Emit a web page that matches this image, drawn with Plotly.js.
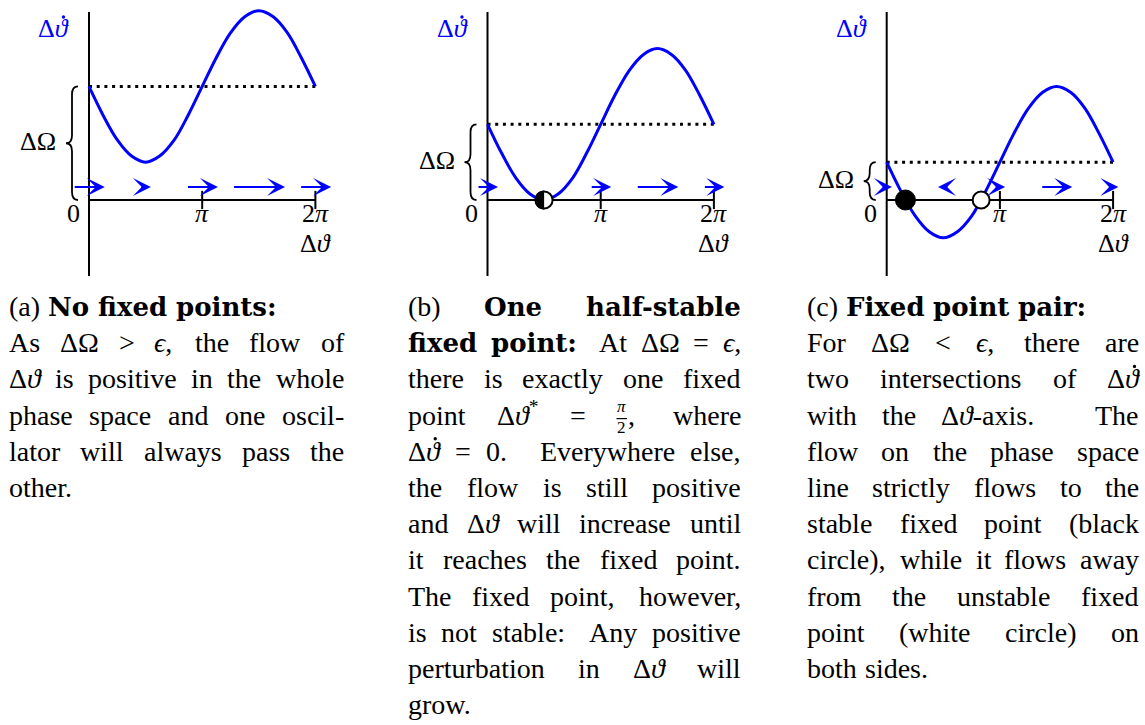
<!DOCTYPE html>
<html>
<head>
<meta charset="utf-8">
<script src="https://cdn.plot.ly/plotly-3.0.1.min.js"></script>
<style>
  html, body { margin: 0; padding: 0; background: #fff; }
  #fig { width: 1145px; height: 725px; }
</style>
</head>
<body>
<div id="fig"></div>
<script>
// Phase-line sketches for the phase difference Δϑ of two coupled oscillators:
// the rate dΔϑ/dt against Δϑ for three detunings ΔΩ relative to the coupling ϵ,
// each with a caption set as a justified paragraph underneath.

// ---- data -------------------------------------------------------------
const phase = [0, 0.39, 0.79, 1.18, 1.57, 1.96, 2.36, 2.75, 3.14,
               3.53, 3.93, 4.32, 4.71, 5.11, 5.50, 5.89, 6.28];
const rateA = [1.50, 1.12, 0.79, 0.58, 0.50, 0.58, 0.79, 1.12, 1.50,
               1.88, 2.21, 2.42, 2.50, 2.42, 2.21, 1.88, 1.50];
const rateB = [1.00, 0.62, 0.29, 0.08, 0.00, 0.08, 0.29, 0.62, 1.00,
               1.38, 1.71, 1.92, 2.00, 1.92, 1.71, 1.38, 1.00];
const rateC = [0.50, 0.12, -0.21, -0.42, -0.50, -0.42, -0.21, 0.12, 0.50,
               0.88, 1.21, 1.42, 1.50, 1.42, 1.21, 0.88, 0.50];
const detuning = [1.5, 1.0, 0.5];          // ΔΩ in units of ϵ
const flowPhase = [0, 1.57, 3.14, 4.71, 6.28];  // where the flow arrows sit
const halfStableB = [1.57];
const stableC = [0.52];
const unstableC = [2.62];
const tickVals = [3.14, 6.28];
const tickText = ['<i>π</i>', '2<i>π</i>'];
const zeroText = '0';
const xTitle = 'Δ<i>ϑ</i>';
const yTitle = 'Δ<i>ϑ̇</i>';
const braceText = 'ΔΩ';

const captionA = [
  { t: '(a) <b>No</b> <b>fixed</b> <b>points:</b>', j: false },
  { t: 'As ΔΩ &gt; <i>ϵ</i>, the flow of', j: true },
  { t: 'Δ<i>ϑ</i> is positive in the whole', j: true },
  { t: 'phase space and one oscil-', j: true },
  { t: 'lator will always pass the', j: true },
  { t: 'other.', j: false }
];
const captionB = [
  { t: '(b) <b>One</b> <b>half-stable</b>', j: true },
  { t: '<b>fixed</b> <b>point:</b> At ΔΩ = <i>ϵ</i>,', j: true },
  { t: 'there is exactly one fixed', j: true },
  { t: 'point Δ<i>ϑ</i><sup>*</sup> = {frac}, where', j: true },
  { t: 'Δ<i>ϑ̇</i> = 0. Everywhere else,', j: true },
  { t: 'the flow is still positive', j: true },
  { t: 'and Δ<i>ϑ</i> will increase until', j: true },
  { t: 'it reaches the fixed point.', j: true },
  { t: 'The fixed point, however,', j: true },
  { t: 'is not stable: Any positive', j: true },
  { t: 'perturbation in Δ<i>ϑ</i> will', j: true },
  { t: 'grow.', j: false }
];
const captionC = [
  { t: '(c) <b>Fixed</b> <b>point</b> <b>pair:</b>', j: false },
  { t: 'For ΔΩ &lt; <i>ϵ</i>, there are', j: true },
  { t: 'two intersections of Δ<i>ϑ̇</i>', j: true },
  { t: 'with the Δ<i>ϑ</i>-axis. The', j: true },
  { t: 'flow on the phase space', j: true },
  { t: 'line strictly flows to the', j: true },
  { t: 'stable fixed point (black', j: true },
  { t: 'circle), while it flows away', j: true },
  { t: 'from the unstable fixed', j: true },
  { t: 'point (white circle) on', j: true },
  { t: 'both sides.', j: false }
];
const fracNum = '<i>π</i>';
const fracDen = '2';

// ---- geometry -----------------------------------------------------------
const W = 1145, H = 725;
const FAMILY = 'Liberation Serif';
const BOLD_FAMILY = 'DejaVu Serif';   // wide bold face for the run-in headings
const FS = 28;                 // caption text size
const BFS = 26;                // heading text size
const LS = 26;                 // size of the labels inside the sketches
const DESC = 0.216;            // descent / size, Liberation Serif
const BDESC = 0.236;           // descent / size, DejaVu Serif
const DOT = '\u0307';          // combining dot above (drawn as a separate mark)
const SX = 36.05;              // px per radian
const SY = 75.7;               // px per unit of ϵ
const OY = 200;                // px row of the Δϑ axis
const AX_TOP = 12, AX_BOT = 276;
const ARROW_K = 21 / SX;       // arrow length (rad) per unit rate
const FLOW_Y = 13 / SY;        // height of the flow arrows above the axis
const BLUE = '#0000ff';

// text measuring
const ctx = document.createElement('canvas').getContext('2d');
const decode = s => s.replace(/&lt;/g, '<').replace(/&gt;/g, '>').replace(/&amp;/g, '&');
const isBold = tok => /^<b>.*<\/b>$/.test(tok);
function textWidth(html, size) {
  let w = 0, bold = false, ital = false, sup = false;
  html.split(/(<\/?(?:b|i|sup)>)/).forEach(part => {
    if (part === '<b>') bold = true;
    else if (part === '</b>') bold = false;
    else if (part === '<i>') ital = true;
    else if (part === '</i>') ital = false;
    else if (part === '<sup>') sup = true;
    else if (part === '</sup>') sup = false;
    else if (part) {
      const fam = bold ? BOLD_FAMILY : FAMILY;
      const sz = bold ? BFS : (sup ? size * 0.7 : size);
      ctx.font = `${ital ? 'italic ' : ''}${bold ? 'bold ' : ''}${sz}px "${fam}", "DejaVu Serif"`;
      w += ctx.measureText(decode(part)).width;
    }
  });
  return w;
}
// split a label that carries a dot accent into the plain text and the
// horizontal centre (px from the text start) of the accented letter
function dotted(html, size) {
  const k = html.indexOf(DOT);
  if (k < 0) return { text: html, dx: null };
  const pre = html.slice(0, k);
  const letter = pre.slice(-1);
  const dx = textWidth(pre, size) - textWidth('<i>' + letter + '</i>', size) / 2 + 0.12 * size;
  return { text: html.replace(DOT, ''), dx };
}

const panels = [
  { ox: 89,    rate: rateA, det: detuning[0], half: [],          stable: [],      unstable: [] },
  { ox: 487.5, rate: rateB, det: detuning[1], half: halfStableB, stable: [],      unstable: [] },
  { ox: 886.7, rate: rateC, det: detuning[2], half: [],          stable: stableC, unstable: unstableC }
];

const layout = {
  width: W, height: H, autosize: false,
  margin: { l: 0, r: 0, t: 0, b: 0 },
  paper_bgcolor: '#fff', plot_bgcolor: '#fff',
  showlegend: false,
  font: { family: FAMILY + ', DejaVu Serif, serif', size: FS, color: '#000' },
  annotations: [], shapes: []
};
const data = [];
const FONT = (size, color, fam) => ({ family: (fam || FAMILY) + ', DejaVu Serif, serif', size, color: color || '#000' });

function accentDot(pxX, pxY, color) {
  layout.shapes.push({ type: 'circle', xref: 'paper', yref: 'paper',
    xsizemode: 'pixel', ysizemode: 'pixel', xanchor: pxX / W, yanchor: 1 - pxY / H,
    x0: -1.7, x1: 1.7, y0: -1.7, y1: 1.7, fillcolor: color, line: { width: 0 } });
}

panels.forEach((p, i) => {
  const sfx = i ? String(i + 1) : '';
  const xa = 'x' + sfx, ya = 'y' + sfx;
  const L = Math.max(0, p.ox - 89), R = Math.min(W, p.ox + 289);
  layout['xaxis' + sfx] = { domain: [L / W, R / W], range: [(L - p.ox) / SX, (R - p.ox) / SX],
                            visible: false, fixedrange: true, anchor: ya };
  layout['yaxis' + sfx] = { domain: [0, 1], range: [(OY - H) / SY, OY / SY],
                            visible: false, fixedrange: true, anchor: xa };
  const x0 = phase[0], x1 = phase[phase.length - 1];
  const yTop = (OY - AX_TOP) / SY, yBot = (OY - AX_BOT) / SY;
  const base = { xaxis: xa, yaxis: ya, hoverinfo: 'skip', showlegend: false };

  // coordinate axes
  data.push(Object.assign({ x: [0, 0], y: [yBot, yTop], mode: 'lines',
                            line: { color: '#000', width: 2 } }, base));
  data.push(Object.assign({ x: [x0, x1], y: [0, 0], mode: 'lines',
                            line: { color: '#000', width: 2 } }, base));
  // level of ΔΩ
  data.push(Object.assign({ x: [x0, x1], y: [p.det, p.det], mode: 'lines',
                            line: { color: '#000', width: 3, dash: '3px,4.7px' } }, base));
  // rate curve
  data.push(Object.assign({ x: phase, y: p.rate, mode: 'lines',
                            line: { color: BLUE, width: 3, shape: 'spline' } }, base));
  // ticks on the Δϑ axis
  data.push(Object.assign({ x: tickVals, y: tickVals.map(() => 0), mode: 'markers',
                            marker: { symbol: 'line-ns', size: 13, line: { color: '#000', width: 2 } } }, base));
  // fixed points
  if (p.half.length || p.unstable.length) {
    const xs = p.half.concat(p.unstable);
    data.push(Object.assign({ x: xs, y: xs.map(() => 0), mode: 'markers', cliponaxis: false,
                              marker: { symbol: 'circle', size: 17, color: '#fff',
                                        line: { color: '#000', width: 2 } } }, base));
  }
  if (p.stable.length) {
    data.push(Object.assign({ x: p.stable, y: p.stable.map(() => 0), mode: 'markers', cliponaxis: false,
                              marker: { symbol: 'circle', size: 20, color: '#000',
                                        line: { color: '#000', width: 1 } } }, base));
  }
  // left half filled for the half-stable point
  p.half.forEach(hx => {
    layout.shapes.push({ type: 'path', xref: xa, yref: ya, layer: 'above',
      xsizemode: 'pixel', ysizemode: 'pixel', xanchor: hx, yanchor: 0,
      path: 'M0,-9.5 C-5.3,-9.5 -9.5,-5.3 -9.5,0 C-9.5,5.3 -5.3,9.5 0,9.5 Z',
      fillcolor: '#000', line: { width: 0 } });
  });

  // flow arrows, length proportional to the local rate
  flowPhase.forEach(fx => {
    const v = p.rate[phase.indexOf(fx)];
    if (Math.abs(v) < 1e-9) return;
    const half = ARROW_K * v / 2;
    layout.annotations.push({ xref: xa, yref: ya, axref: xa, ayref: ya,
      x: fx + half, y: FLOW_Y, ax: fx - half, ay: FLOW_Y, text: '',
      showarrow: true, arrowhead: 3, arrowsize: 1.5, arrowwidth: 2,
      arrowcolor: BLUE, standoff: 0, startstandoff: 0 });
  });

  // brace marking ΔΩ on the rate axis (x in px from the axis, y in data)
  const c = 8 / SY, m = p.det / 2, d = p.det;
  layout.shapes.push({ type: 'path', xref: xa, yref: ya, xsizemode: 'pixel', xanchor: 0,
    path: `M-11,${d} Q-17,${d} -17,${d - c} L-17,${m + c} Q-17,${m} -23,${m} ` +
          `Q-17,${m} -17,${m - c} L-17,${c} Q-17,0 -11,0`,
    line: { color: '#000', width: 1.8 } });

  const lab = (x, y, text, opt) => layout.annotations.push(Object.assign({
    xref: xa, yref: ya, x, y, text, showarrow: false, borderpad: 0,
    xanchor: 'center', yanchor: 'bottom', font: FONT(LS) }, opt));
  tickVals.forEach((tv, k) => lab(tv, 0, tickText[k], { yshift: -(23 + DESC * LS) }));
  lab(0, 0, zeroText, { xshift: -16, yshift: -(23 + DESC * LS) });
  lab(x1, 0, xTitle, { yshift: -(53 + DESC * LS) });
  lab(0, m, braceText, { xanchor: 'right', xshift: -32, yshift: -(8.5 + DESC * LS) });
  // rate label in blue, with its dot accent
  const yl = dotted(yTitle, LS);
  const ylLeft = p.ox - 37 - textWidth(yl.text, LS) / 2;
  lab(0, yTop, yl.text, { xanchor: 'left', xshift: ylLeft - p.ox, yshift: -(26 + DESC * LS), font: FONT(LS, BLUE) });
  accentDot(ylLeft + yl.dx, AX_TOP + 26 - 21, BLUE);
});

// ---- captions: justified lines built word by word -------------------------
const FRAC_FS = 17;
const fracW = Math.max(textWidth(fracNum, FRAC_FS), textWidth(fracDen, FRAC_FS)) + 3;
function tokenWidth(tok) {
  if (tok.startsWith('{frac}')) return fracW + textWidth(tok.slice(6), FS);
  return textWidth(tok.replace(DOT, ''), FS);
}
const SPACE = 0.3 * FS;        // natural interword space
const EXTRA = 0.11 * FS;       // extra space after a sentence
// stretchability of the space that follows a word, after TeX's space factor
function spaceFactor(tok) {
  const last = decode(tok.replace(/<[^>]+>/g, '')).slice(-1);
  if ('.?!'.includes(last)) return 3;
  if (last === ':') return 2;
  if (last === ';') return 1.5;
  if (last === ',') return 1.25;
  return 1;
}
const LINE0 = 317, LEAD = 36.2;

function word(html, px, basePx, size) {
  const dd = dotted(html, size);
  const bold = isBold(html);
  layout.annotations.push({ xref: 'paper', yref: 'paper', x: px / W,
    y: 1 - (basePx + (bold ? BDESC * BFS : DESC * size)) / H,
    xanchor: 'left', yanchor: 'bottom', text: dd.text, showarrow: false, borderpad: 0,
    font: bold ? FONT(BFS, '#000', BOLD_FAMILY) : FONT(size) });
  if (dd.dx !== null) accentDot(px + dd.dx, basePx - 23, '#000');
}
function placeToken(tok, px, basePx) {
  if (!tok.startsWith('{frac}')) { word(tok, px, basePx, FS); return; }
  const bar = basePx - 7;
  const cx = (px + fracW / 2) / W;
  layout.annotations.push({ xref: 'paper', yref: 'paper', x: cx, y: 1 - (bar - 2) / H,
    xanchor: 'center', yanchor: 'bottom', text: fracNum, showarrow: false, borderpad: 0,
    font: FONT(FRAC_FS) });
  layout.annotations.push({ xref: 'paper', yref: 'paper', x: cx, y: 1 - (bar - 2) / H,
    xanchor: 'center', yanchor: 'top', text: fracDen, showarrow: false, borderpad: 0,
    font: FONT(FRAC_FS) });
  layout.shapes.push({ type: 'line', xref: 'paper', yref: 'paper',
    x0: (px + 0.5) / W, x1: (px + fracW - 0.5) / W, y0: 1 - bar / H, y1: 1 - bar / H,
    line: { color: '#000', width: 1.2 } });
  const rest = tok.slice(6);
  if (rest) word(rest, px + fracW, basePx, FS);
}

const columns = [
  { left: 8,   right: 343,  lines: captionA },
  { left: 407, right: 740,  lines: captionB },
  { left: 806, right: 1138, lines: captionC }
];
columns.forEach(col => {
  col.lines.forEach((line, li) => {
    const toks = line.t.split(' ');
    const widths = toks.map(tokenWidth);
    const total = widths.reduce((a, b) => a + b, 0);
    const nat = toks.slice(0, -1).map(t => SPACE + (spaceFactor(t) >= 2 ? EXTRA : 0));
    const str = toks.slice(0, -1).map(spaceFactor);
    let gaps = nat;
    if (line.j && toks.length > 1) {
      const slack = col.right - col.left - total - nat.reduce((a, b) => a + b, 0);
      const r = slack / str.reduce((a, b) => a + b, 0);
      gaps = nat.map((g, k) => g + str[k] * r);
    }
    const basePx = LINE0 + li * LEAD;
    let x = col.left;
    toks.forEach((tok, k) => { placeToken(tok, x, basePx); x += widths[k] + (gaps[k] || 0); });
  });
});

Plotly.newPlot('fig', data, layout, { staticPlot: true, displayModeBar: false });
</script>
</body>
</html>
